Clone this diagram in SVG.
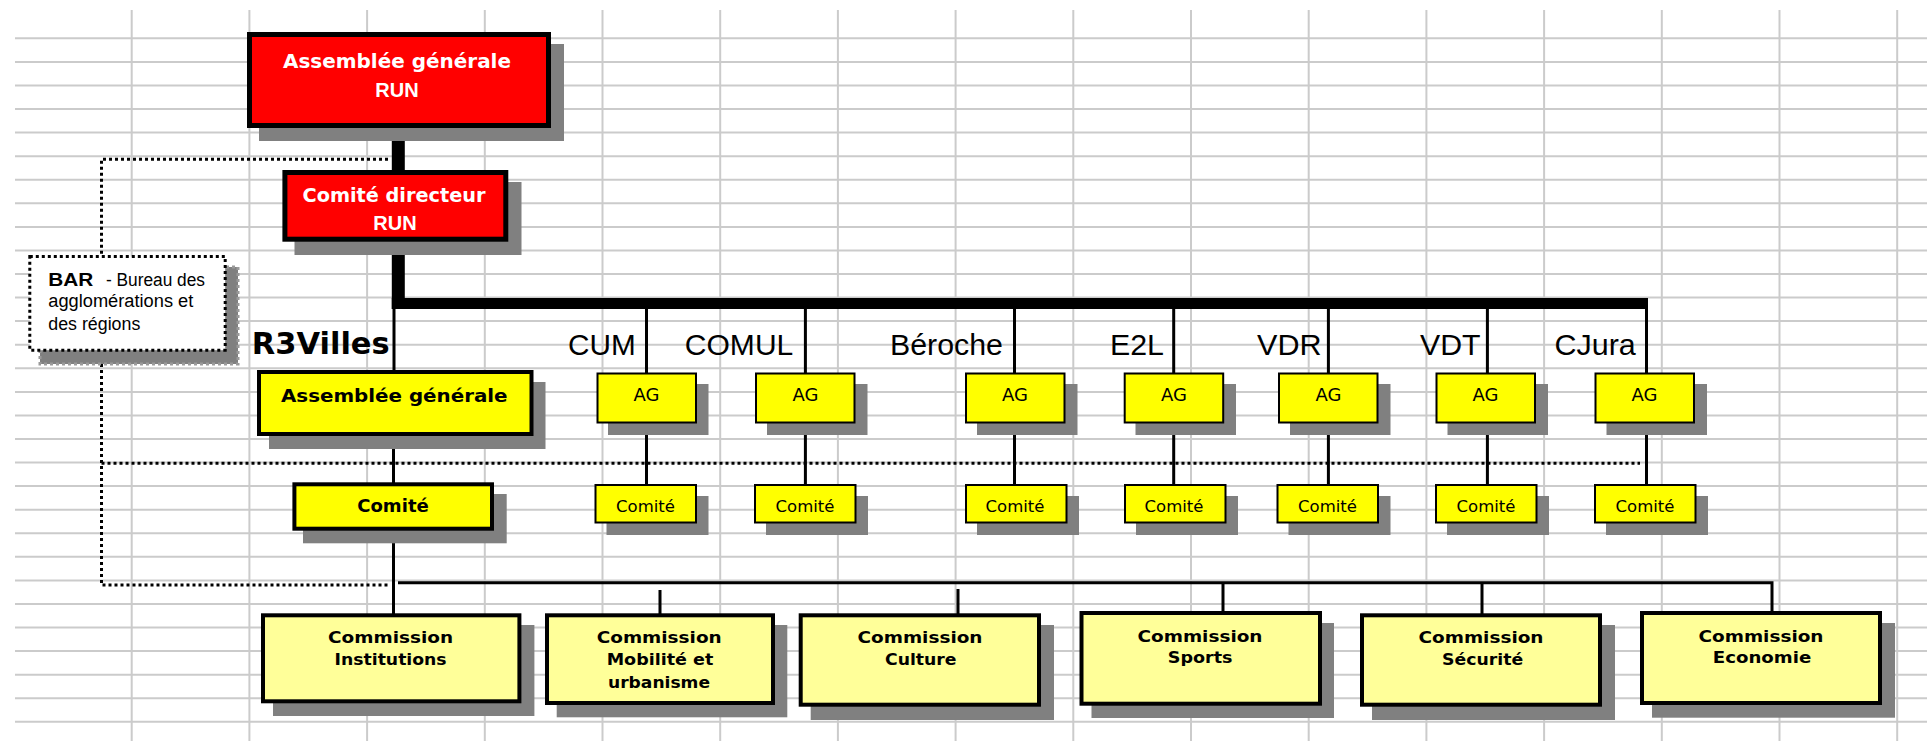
<svg xmlns="http://www.w3.org/2000/svg" width="1927" height="741" viewBox="0 0 1927 741">
<defs>
<style>
.grid line{stroke:#cbcbcb;stroke-width:2}
.shadow{fill:#808080}
.red{fill:#ff0000;stroke:#000;stroke-width:5}
.ybig{fill:#ffff00;stroke:#000;stroke-width:4}
.ysm{fill:#ffff00;stroke:#000;stroke-width:2}
.com{fill:#ffff99;stroke:#000;stroke-width:4}
.wt{font-family:"DejaVu Sans",sans-serif;font-weight:bold;font-size:20px;fill:#fff;text-anchor:middle}
.run{font-family:"Liberation Sans",Arial,sans-serif;font-weight:bold;font-size:20px;fill:#fff;text-anchor:middle}
.bt{font-family:"DejaVu Sans",sans-serif;font-weight:bold;fill:#000;text-anchor:middle}
.st{font-family:"DejaVu Sans",sans-serif;fill:#000;text-anchor:middle}
.lbl{font-family:"Liberation Sans",Arial,sans-serif;font-size:30px;fill:#000}
.bar{font-family:"Liberation Sans",Arial,sans-serif;font-size:18px;fill:#000}
.ct{font-family:"DejaVu Sans",sans-serif;font-weight:bold;font-size:16px;fill:#000;text-anchor:middle}
.thick{stroke:#000;fill:none}
.thin{stroke:#000;stroke-width:3;fill:none}
.dot{stroke:#000;stroke-width:3;stroke-dasharray:3 3;fill:none}
</style>
</defs>
<rect width="1927" height="741" fill="#fff"/>
<g class="grid">
<line x1="15" y1="38.3" x2="1927" y2="38.3"/><line x1="15" y1="61.9" x2="1927" y2="61.9"/><line x1="15" y1="85.4" x2="1927" y2="85.4"/><line x1="15" y1="109" x2="1927" y2="109"/><line x1="15" y1="132.6" x2="1927" y2="132.6"/><line x1="15" y1="156.2" x2="1927" y2="156.2"/><line x1="15" y1="179.7" x2="1927" y2="179.7"/><line x1="15" y1="203.3" x2="1927" y2="203.3"/><line x1="15" y1="226.9" x2="1927" y2="226.9"/><line x1="15" y1="250.4" x2="1927" y2="250.4"/><line x1="15" y1="274" x2="1927" y2="274"/><line x1="15" y1="297.6" x2="1927" y2="297.6"/><line x1="15" y1="321.1" x2="1927" y2="321.1"/><line x1="15" y1="344.7" x2="1927" y2="344.7"/><line x1="15" y1="368.3" x2="1927" y2="368.3"/><line x1="15" y1="391.9" x2="1927" y2="391.9"/><line x1="15" y1="415.4" x2="1927" y2="415.4"/><line x1="15" y1="439" x2="1927" y2="439"/><line x1="15" y1="462.6" x2="1927" y2="462.6"/><line x1="15" y1="486.1" x2="1927" y2="486.1"/><line x1="15" y1="509.7" x2="1927" y2="509.7"/><line x1="15" y1="533.3" x2="1927" y2="533.3"/><line x1="15" y1="556.8" x2="1927" y2="556.8"/><line x1="15" y1="580.4" x2="1927" y2="580.4"/><line x1="15" y1="604" x2="1927" y2="604"/><line x1="15" y1="627.6" x2="1927" y2="627.6"/><line x1="15" y1="651.1" x2="1927" y2="651.1"/><line x1="15" y1="674.7" x2="1927" y2="674.7"/><line x1="15" y1="698.3" x2="1927" y2="698.3"/><line x1="15" y1="721.8" x2="1927" y2="721.8"/>
<line x1="131.7" y1="10" x2="131.7" y2="741"/><line x1="249.4" y1="10" x2="249.4" y2="741"/><line x1="367.1" y1="10" x2="367.1" y2="741"/><line x1="484.8" y1="10" x2="484.8" y2="741"/><line x1="602.5" y1="10" x2="602.5" y2="741"/><line x1="720.2" y1="10" x2="720.2" y2="741"/><line x1="837.9" y1="10" x2="837.9" y2="741"/><line x1="955.6" y1="10" x2="955.6" y2="741"/><line x1="1073.3" y1="10" x2="1073.3" y2="741"/><line x1="1191" y1="10" x2="1191" y2="741"/><line x1="1308.7" y1="10" x2="1308.7" y2="741"/><line x1="1426.4" y1="10" x2="1426.4" y2="741"/><line x1="1544.1" y1="10" x2="1544.1" y2="741"/><line x1="1661.8" y1="10" x2="1661.8" y2="741"/><line x1="1779.5" y1="10" x2="1779.5" y2="741"/><line x1="1897.2" y1="10" x2="1897.2" y2="741"/>
</g>
<g id="connectors">
<line class="thick" x1="398.3" y1="127" x2="398.3" y2="171" stroke-width="13"/>
<line class="thick" x1="398.3" y1="241" x2="398.3" y2="309" stroke-width="13"/>
<line class="thick" x1="391.8" y1="303.5" x2="1648" y2="303.5" stroke-width="11"/>
<line class="thin" x1="394" y1="309" x2="394" y2="371"/>
<line class="thin" x1="393.5" y1="435" x2="393.5" y2="483"/>
<line class="thin" x1="393.5" y1="530" x2="393.5" y2="614"/>
<path class="thin" d="M646.5,309V373M646.5,422V485M805.4,309V373M805.4,422V485M1014.5,309V373M1014.5,422V485M1173.7,309V373M1173.7,422V485M1328.4,309V373M1328.4,422V485M1487.4,309V373M1487.4,422V485M1646.5,309V373M1646.5,422V485"/>
<path class="thin" d="M398,582.7H1772V612"/>
<path class="thin" d="M660,590V614M958,589V614M1223,582.7V612M1482,582.7V614"/>
<path class="dot" d="M388,159.3H101.5V255"/>
<path class="dot" d="M101.5,352V585H388"/>
<path class="dot" d="M101.5,463.3H1640"/>
</g>
<g id="ag-run">
<rect class="shadow" x="259" y="44" width="305" height="97"/>
<rect class="red" x="249.5" y="34.5" width="299" height="91"/>
<text class="wt" x="397" y="68" textLength="228" lengthAdjust="spacingAndGlyphs">Assemblée générale</text>
<text class="run" x="397" y="96.7">RUN</text>
</g>
<g id="cd-run">
<rect class="shadow" x="294.5" y="182" width="227" height="73"/>
<rect class="red" x="284.9" y="172.5" width="220.9" height="66.7"/>
<text class="wt" x="394" y="201.7" textLength="183" lengthAdjust="spacingAndGlyphs">Comité directeur</text>
<text class="run" x="395" y="230">RUN</text>
</g>
<g id="bar">
<rect x="40" y="267" width="198" height="97" fill="#808080"/>
<rect x="40" y="267" width="198" height="97" fill="none" stroke="#9a9a9a" stroke-width="3" stroke-dasharray="3 3"/>
<rect x="29.8" y="256.5" width="195.4" height="93.7" fill="#fff"/>
<rect class="dot" x="29.8" y="256.5" width="195.4" height="93.7"/>
<text class="bar" x="48.3" y="285.7" font-weight="bold" textLength="45" lengthAdjust="spacingAndGlyphs">BAR</text>
<text class="bar" x="106" y="285.7" textLength="99" lengthAdjust="spacingAndGlyphs">- Bureau des</text>
<text class="bar" x="48.3" y="306.7" textLength="145" lengthAdjust="spacingAndGlyphs">agglomérations et</text>
<text class="bar" x="48.3" y="330" textLength="92" lengthAdjust="spacingAndGlyphs">des régions</text>
</g>
<g id="r3villes-label">
<text x="251.7" y="354" font-family="DejaVu Sans, sans-serif" font-weight="bold" font-size="30" textLength="138" lengthAdjust="spacingAndGlyphs">R3Villes</text>
</g>
<g id="r3-ag">
<rect class="shadow" x="269" y="382" width="276.5" height="67"/>
<rect class="ybig" x="259" y="372" width="272.5" height="62"/>
<text class="bt" x="394.3" y="401.7" font-size="18" textLength="226.6" lengthAdjust="spacingAndGlyphs">Assemblée générale</text>
</g>
<g id="r3-comite">
<rect class="shadow" x="303" y="494" width="203.7" height="49.3"/>
<rect class="ybig" x="294.4" y="484.3" width="197.6" height="44.4"/>
<text class="bt" x="393" y="511.7" font-size="17" textLength="71.6" lengthAdjust="spacingAndGlyphs">Comité</text>
</g>
<g id="labels">
<text class="lbl" x="568" y="355" textLength="67.7" lengthAdjust="spacingAndGlyphs">CUM</text>
<text class="lbl" x="684.8" y="355" textLength="108.5" lengthAdjust="spacingAndGlyphs">COMUL</text>
<text class="lbl" x="890" y="355" textLength="113" lengthAdjust="spacingAndGlyphs">Béroche</text>
<text class="lbl" x="1110" y="355" textLength="54" lengthAdjust="spacingAndGlyphs">E2L</text>
<text class="lbl" x="1257" y="355" textLength="64.5" lengthAdjust="spacingAndGlyphs">VDR</text>
<text class="lbl" x="1420" y="355" textLength="60.5" lengthAdjust="spacingAndGlyphs">VDT</text>
<text class="lbl" x="1554.6" y="355" textLength="81.2" lengthAdjust="spacingAndGlyphs">CJura</text>
</g>
<g id="cum-ag"><rect class="shadow" x="608" y="384" width="100.5" height="51"/><rect class="ysm" x="597.5" y="373.5" width="98.5" height="49"/><text class="st" x="646.5" y="400.7" font-size="18">AG</text></g>
<g id="cum-comite"><rect class="shadow" x="606.5" y="496" width="102" height="39"/><rect class="ysm" x="595.5" y="485" width="100.5" height="37.5"/><text class="st" x="645.5" y="511.7" font-size="16.5">Comité</text></g>
<g id="comul-ag"><rect class="shadow" x="767" y="384" width="100.5" height="51"/><rect class="ysm" x="756" y="373.5" width="98.5" height="49"/><text class="st" x="805.4" y="400.7" font-size="18">AG</text></g>
<g id="comul-comite"><rect class="shadow" x="766" y="496" width="102" height="39"/><rect class="ysm" x="755" y="485" width="100.5" height="37.5"/><text class="st" x="805" y="511.7" font-size="16.5">Comité</text></g>
<g id="beroche-ag"><rect class="shadow" x="977" y="384" width="100.5" height="51"/><rect class="ysm" x="966" y="373.5" width="98.5" height="49"/><text class="st" x="1015" y="400.7" font-size="18">AG</text></g>
<g id="beroche-comite"><rect class="shadow" x="977" y="496" width="102" height="39"/><rect class="ysm" x="966" y="485" width="100.5" height="37.5"/><text class="st" x="1015" y="511.7" font-size="16.5">Comité</text></g>
<g id="e2l-ag"><rect class="shadow" x="1135.5" y="384" width="100.5" height="51"/><rect class="ysm" x="1124.7" y="373.5" width="98.5" height="49"/><text class="st" x="1174" y="400.7" font-size="18">AG</text></g>
<g id="e2l-comite"><rect class="shadow" x="1136" y="496" width="102" height="39"/><rect class="ysm" x="1125" y="485" width="100.5" height="37.5"/><text class="st" x="1174" y="511.7" font-size="16.5">Comité</text></g>
<g id="vdr-ag"><rect class="shadow" x="1290" y="384" width="100.5" height="51"/><rect class="ysm" x="1279" y="373.5" width="98.5" height="49"/><text class="st" x="1328.4" y="400.7" font-size="18">AG</text></g>
<g id="vdr-comite"><rect class="shadow" x="1288.5" y="496" width="102" height="39"/><rect class="ysm" x="1277.5" y="485" width="100.5" height="37.5"/><text class="st" x="1327.5" y="511.7" font-size="16.5">Comité</text></g>
<g id="vdt-ag"><rect class="shadow" x="1447.5" y="384" width="100.5" height="51"/><rect class="ysm" x="1436.5" y="373.5" width="98.5" height="49"/><text class="st" x="1485.5" y="400.7" font-size="18">AG</text></g>
<g id="vdt-comite"><rect class="shadow" x="1447" y="496" width="102" height="39"/><rect class="ysm" x="1436" y="485" width="100.5" height="37.5"/><text class="st" x="1486" y="511.7" font-size="16.5">Comité</text></g>
<g id="cjura-ag"><rect class="shadow" x="1606.5" y="384" width="100.5" height="51"/><rect class="ysm" x="1595.5" y="373.5" width="98.5" height="49"/><text class="st" x="1644.6" y="400.7" font-size="18">AG</text></g>
<g id="cjura-comite"><rect class="shadow" x="1606" y="496" width="102" height="39"/><rect class="ysm" x="1595" y="485" width="100.5" height="37.5"/><text class="st" x="1645" y="511.7" font-size="16.5">Comité</text></g>
<g id="com-institutions">
<rect class="shadow" x="273" y="625" width="261.4" height="91"/>
<rect class="com" x="263" y="615.3" width="256.4" height="86"/>
<text class="ct" x="390.6" y="643.3" textLength="125" lengthAdjust="spacingAndGlyphs">Commission</text>
<text class="ct" x="390.6" y="665" textLength="112" lengthAdjust="spacingAndGlyphs">Institutions</text>
</g>
<g id="com-mobilite">
<rect class="shadow" x="556.7" y="625" width="230.6" height="92.3"/>
<rect class="com" x="547" y="615.3" width="226" height="87.7"/>
<text class="ct" x="659.2" y="643.3" textLength="125" lengthAdjust="spacingAndGlyphs">Commission</text>
<text class="ct" x="660" y="665" textLength="106.6" lengthAdjust="spacingAndGlyphs">Mobilité et</text>
<text class="ct" x="659" y="688.3" textLength="102" lengthAdjust="spacingAndGlyphs">urbanisme</text>
</g>
<g id="com-culture">
<rect class="shadow" x="810.7" y="625" width="243.3" height="95"/>
<rect class="com" x="800.7" y="615.3" width="238.3" height="89.4"/>
<text class="ct" x="920" y="643.3" textLength="125" lengthAdjust="spacingAndGlyphs">Commission</text>
<text class="ct" x="920.8" y="665" textLength="71.5" lengthAdjust="spacingAndGlyphs">Culture</text>
</g>
<g id="com-sports">
<rect class="shadow" x="1091.5" y="623" width="242.5" height="95"/>
<rect class="com" x="1081.5" y="613" width="238.5" height="90.7"/>
<text class="ct" x="1200" y="641.7" textLength="125" lengthAdjust="spacingAndGlyphs">Commission</text>
<text class="ct" x="1200.2" y="663.3" textLength="64.7" lengthAdjust="spacingAndGlyphs">Sports</text>
</g>
<g id="com-securite">
<rect class="shadow" x="1372" y="625" width="243" height="95"/>
<rect class="com" x="1362" y="615.3" width="238" height="89.4"/>
<text class="ct" x="1481" y="643.3" textLength="125" lengthAdjust="spacingAndGlyphs">Commission</text>
<text class="ct" x="1482.6" y="665" textLength="81" lengthAdjust="spacingAndGlyphs">Sécurité</text>
</g>
<g id="com-economie">
<rect class="shadow" x="1652" y="623" width="243" height="94.7"/>
<rect class="com" x="1642" y="613" width="238" height="90"/>
<text class="ct" x="1761" y="641.7" textLength="125" lengthAdjust="spacingAndGlyphs">Commission</text>
<text class="ct" x="1762" y="662.7" textLength="98.4" lengthAdjust="spacingAndGlyphs">Economie</text>
</g>
</svg>
